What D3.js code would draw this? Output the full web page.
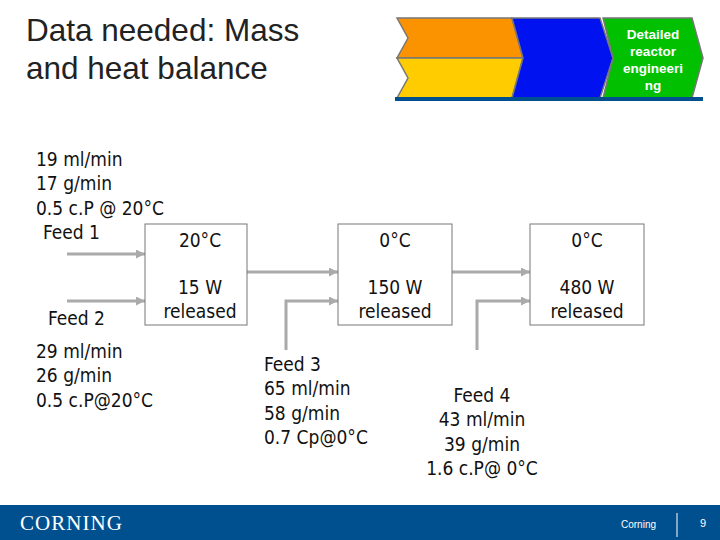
<!DOCTYPE html><html><head><meta charset="utf-8"><script src="https://cdn.jsdelivr.net/npm/d3@7"></script>
<style>body{margin:0}svg{display:block}</style></head><body><script>
const titleLines=["Data needed: Mass","and heat balance"];
const boxTemps=["20°C","0°C","0°C"];
const boxPowers=["15 W","150 W","480 W"];
const feed1Text=["19 ml/min","17 g/min","0.5 c.P @ 20°C"];
const feed2Text=["29 ml/min","26 g/min","0.5 c.P@20°C"];
const feed3Text=["Feed 3","65 ml/min","58 g/min","0.7 Cp@0°C"];
const feed4Text=["Feed 4","43 ml/min","39 g/min","1.6 c.P@ 0°C"];
const boxX=[145,338,530];
const svg=d3.select("body").append("svg").attr("width",720).attr("height",540);
svg.append("rect").attr("width",720).attr("height",540).attr("fill","#fff");
const F="DejaVu Sans Condensed, Verdana, sans-serif";
svg.selectAll(".t").data(titleLines).join("text").attr("x",26).attr("y",(d,i)=>41+i*38).text(d=>d)
 .attr("font-family","Liberation Sans, Arial").attr("font-size",31.5).attr("fill","#222");
const g=svg.append("g").attr("stroke","#777").attr("stroke-width",1.5);
g.append("path").attr("d","M397,18 L512,18 L523,58 L397,58 L408,38 Z").attr("fill","#fb9300");
g.append("path").attr("d","M397,58 L523,58 L512,98 L397,98 L408,78 Z").attr("fill","#ffcc00");
g.append("path").attr("d","M512,18 L600,18 L613,58 L600,98 L512,98 L523,58 Z").attr("fill","#0012f0");
g.append("path").attr("d","M603,18 L692,18 L703,58 L692,98 L603,98 L613,58 Z").attr("fill","#00c000");
svg.append("rect").attr("x",395).attr("y",97).attr("width",308).attr("height",4).attr("fill","#00508f");
svg.selectAll(".d").data(["Detailed","reactor","engineeri","ng"]).join("text").attr("x",653).attr("y",(d,i)=>39+i*17)
 .attr("text-anchor","middle").attr("font-family","Liberation Sans, Arial").attr("font-weight","bold").attr("font-size",13.5).attr("fill","#fff").text(d=>d);
const ac="#aaa";
const defs=svg.append("defs");
defs.append("marker").attr("id","a").attr("viewBox","0 0 10 10").attr("refX",10).attr("refY",5).attr("markerWidth",3).attr("markerHeight",3).attr("orient","auto")
 .append("path").attr("d","M0,0L10,5L0,10Z").attr("fill",ac);
const lines=[[[67,254],[145,254]],[[67,301],[145,301]],[[247,272],[338,272]],[[452,272],[530,272]],
 [[286,350],[286,301],[338,301]],[[477,350],[477,301],[530,301]]];
svg.selectAll(".l").data(lines).join("path").attr("d",d=>d3.line()(d)).attr("fill","none").attr("stroke",ac).attr("stroke-width",3).attr("marker-end","url(#a)");
const bg=svg.selectAll(".b").data(boxX).join("g");
bg.append("rect").attr("x",d=>d).attr("y",224).attr("width",d=>d==145?102:114).attr("height",101).attr("fill","#fff").attr("stroke","#777");
bg.append("text").attr("x",(d,i)=>d+(i==0?55:57)).attr("y",247).attr("text-anchor","middle").text((d,i)=>boxTemps[i]);
bg.append("text").attr("x",(d,i)=>d+(i==0?55:57)).attr("y",294).attr("text-anchor","middle").text((d,i)=>boxPowers[i]);
bg.append("text").attr("x",(d,i)=>d+(i==0?55:57)).attr("y",318).attr("text-anchor","middle").text("released");
bg.selectAll("text").attr("font-family",F).attr("font-size",19).attr("fill","#111");
function block(arr,x,y,anchor){svg.append("g").selectAll("text").data(arr).join("text").attr("x",x).attr("y",(d,i)=>y+i*24.3).attr("text-anchor",anchor||"start")
 .attr("font-family",F).attr("font-size",19).attr("fill","#111").text(d=>d);}
block(feed1Text,36,166);
block(["Feed 1"],43,239);
block(["Feed 2"],48,325);
block(feed2Text,36,358);
block(feed3Text,264,371);
block(feed4Text,482,402,"middle");
svg.append("rect").attr("y",505).attr("width",720).attr("height",35).attr("fill","#00508f");
svg.append("text").attr("x",20).attr("y",530).text("CORNING").attr("font-family","Liberation Serif, serif").attr("font-size",21).attr("textLength",102).attr("fill","#fff");
svg.append("text").attr("x",621).attr("y",528).text("Corning").attr("font-family","Liberation Sans").attr("font-size",10).attr("fill","#fff");
svg.append("line").attr("x1",677).attr("x2",677).attr("y1",513).attr("y2",537).attr("stroke","#fff");
svg.append("text").attr("x",700).attr("y",527).text("9").attr("font-family","Liberation Sans").attr("font-size",11).attr("fill","#fff");
</script></body></html>
